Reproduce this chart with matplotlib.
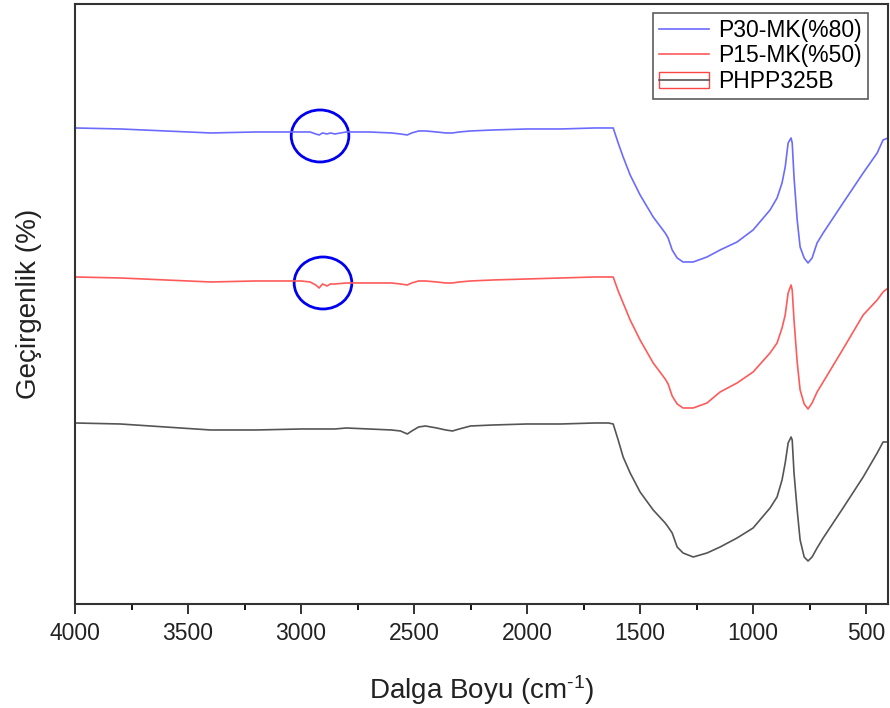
import numpy as np
import matplotlib
matplotlib.use("Agg")
import matplotlib.pyplot as plt
from matplotlib.patches import Ellipse, Rectangle
from matplotlib.lines import Line2D
from matplotlib.ticker import MultipleLocator

plt.rcParams['font.family'] = ['Liberation Sans', 'DejaVu Sans']
plt.rcParams['mathtext.fontset'] = 'custom'
plt.rcParams['mathtext.rm'] = 'Liberation Sans'
plt.rcParams['mathtext.default'] = 'regular'

## data (transmittance in arbitrary units, shared wavenumber grid)
wavenumber = [4000, 3800, 3600, 3400, 3200, 3000, 2960, 2935, 2920, 2905, 2885,
              2870, 2850, 2800, 2700, 2600, 2560, 2530, 2510, 2480, 2450, 2400,
              2360, 2330, 2300, 2250, 2150, 2000, 1850, 1700, 1640,
              1619, 1597, 1575, 1544, 1500, 1442, 1389, 1376, 1358, 1336, 1310,
              1265, 1204, 1146, 1071, 1000, 925, 894, 872, 858, 845, 832, 827,
              819, 805, 792, 774, 757, 739, 717, 690, 602, 513, 451, 425, 403]

t_p30 = [476, 475, 473, 471, 472, 472, 472, 470, 469, 471, 470,
         471, 470, 472, 472, 471, 470, 469, 471, 473, 473, 472,
         471, 471, 472, 473, 474, 475, 475, 476, 476,
         476, 461, 447, 429, 409, 387, 371, 366, 354, 346, 342,
         342, 347, 354, 362, 374, 394, 406, 421, 437, 461, 466, 461,
         427, 384, 357, 346, 341, 346, 361, 371, 401, 431, 451, 464, 466]

t_p15 = [327, 326, 324, 322, 323, 323, 322, 319, 316, 320, 318,
         320, 320, 321, 321, 321, 320, 319, 321, 323, 323, 322,
         321, 321, 322, 323, 324, 325, 326, 327, 327,
         327, 313, 301, 284, 264, 241, 225, 220, 208, 200, 196,
         196, 201, 212, 221, 232, 251, 261, 276, 289, 311, 319, 314,
         284, 242, 214, 200, 195, 201, 212, 222, 255, 289, 304, 312, 316]

t_phpp = [181, 180, 177, 174, 174, 175, 175, 175, 175, 175, 175,
          175, 175, 176, 175, 174, 173, 170, 173, 177, 178, 176,
          174, 173, 175, 178, 179, 180, 180, 181, 181,
          180, 164, 147, 131, 112, 94, 81, 77, 71, 57, 51,
          47, 51, 57, 66, 76, 96, 107, 124, 141, 161, 167, 164,
          131, 94, 64, 47, 43, 47, 56, 66, 96, 127, 151, 162, 162]

labels = ['P30-MK(%80)', 'P15-MK(%50)', 'PHPP325B']
colors = ['#6b6bff', '#ff5a5a', '#555555']

## highlighted regions (wavenumber, transmittance)
circle_centres = [(2916, 468), (2903, 321)]

fig = plt.figure(figsize=(8.9, 7.08), dpi=100)
ax = fig.add_axes([0.0843, 0.1469, 0.9135, 0.8475])

ax.plot(wavenumber, t_p30, color=colors[0], lw=1.2)
ax.plot(wavenumber, t_p15, color=colors[1], lw=1.2)
ax.plot(wavenumber, t_phpp, color=colors[2], lw=1.2)

for cx, cy in circle_centres:
    ax.add_patch(Ellipse((cx, cy), 255, 52, fill=False, ec='#0000ee', lw=2))

ax.set_xlim(4000, 403)
ax.set_ylim(0, 600)
ax.xaxis.set_major_locator(MultipleLocator(500))
ax.xaxis.set_minor_locator(MultipleLocator(250))
ax.set_yticks([])
ax.tick_params(axis='x', which='major', direction='out', length=7, width=1.3,
               labelsize=16.5, pad=6, colors='#222222')
ax.tick_params(axis='x', which='minor', direction='out', length=4, width=1.3)
for s in ax.spines.values():
    s.set_linewidth(1.5)
    s.set_color('#333333')

ax.set_xlabel(r'Dalga Boyu (cm$^{\text{-1}}$)', fontsize=20, labelpad=20, color='#222222')
ax.set_ylabel('Geçirgenlik (%)', fontsize=20, labelpad=24, color='#222222')

h1 = Line2D([], [], color=colors[0], lw=1.2)
h2 = Line2D([], [], color=colors[1], lw=1.2)
h3 = (Rectangle((0, 0), 1, 1, fill=False, ec='#ff4444', lw=1.0),
      Line2D([], [], color=colors[2], lw=1.2))
leg = ax.legend([h1, h2, h3], labels, loc='upper right', fontsize=16.5,
                frameon=True, fancybox=False, edgecolor='#333333',
                handlelength=2.2, handletextpad=0.4, borderpad=0.25,
                labelspacing=0.12, borderaxespad=0, bbox_to_anchor=(0.975, 0.985))
leg.get_frame().set_linewidth(1.2)

fig.savefig('out.png', dpi=100)
